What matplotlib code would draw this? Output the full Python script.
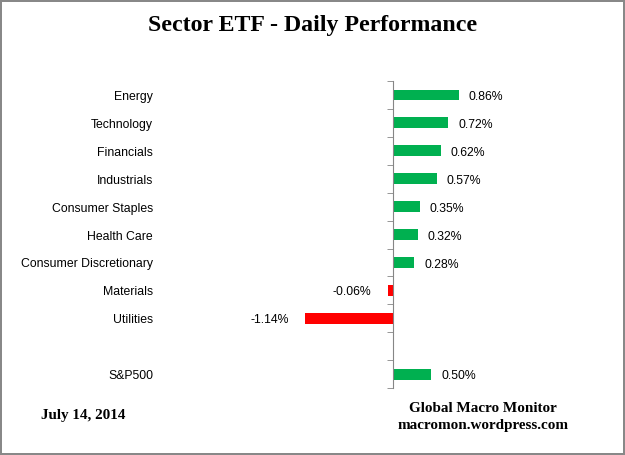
import matplotlib
matplotlib.use("Agg")
import matplotlib.pyplot as plt
import matplotlib.transforms as mtransforms
import numpy as np

# data, top to bottom (blank slot between Utilities and S&P500)
sectors = ["Energy", "Technology", "Financials", "Industrials", "Consumer Staples",
           "Health Care", "Consumer Discretionary", "Materials", "Utilities", "", "S&P500"]
returns = [0.86, 0.72, 0.62, 0.57, 0.35, 0.32, 0.28, -0.06, -1.14, np.nan, 0.50]

GREEN = "#00B050"
RED = "#FF0000"
SANS = "Liberation Sans"
SERIF = "Liberation Serif"

fig = plt.figure(figsize=(6.25, 4.55), dpi=100)
fig.patch.set_edgecolor("#888888")
fig.patch.set_linewidth(1.5)

ax = fig.add_axes([0.260, 0.147, 0.6146, 0.675])

pos = np.arange(len(sectors))
vals = np.array(returns, dtype=float)
colors = [GREEN if v >= 0 else RED for v in np.nan_to_num(vals)]
ax.barh(pos, np.nan_to_num(vals), height=0.39, color=colors, zorder=2)

ax.set_xlim(-3, 2)
ax.set_ylim(len(sectors) - 0.5, -0.5)

for s in ["top", "right", "bottom"]:
    ax.spines[s].set_visible(False)
ax.spines["left"].set_position(("data", 0))
ax.spines["left"].set_color("#868686")
ax.set_xticks([])
ax.set_yticks([])
ax.set_yticks(np.arange(len(sectors) + 1) - 0.5, minor=True)
ax.tick_params(axis="y", which="minor", length=4, color="#868686", labelleft=False)

# category labels on the left of the plot area
trans = mtransforms.blended_transform_factory(fig.transFigure, ax.transData)
for y, name in zip(pos, sectors):
    if name:
        ax.text(153 / 625, y + 0.07, name, transform=trans, ha="right", va="center",
                fontsize=8.8, family=SANS, color="#000000")

# value labels
for y, v in zip(pos, vals):
    if np.isnan(v):
        continue
    if v >= 0:
        ax.annotate(f"{v:.2f}%", (v, y), xytext=(7, -1.5), textcoords="offset points",
                    ha="left", va="center", fontsize=8.8, family=SANS)
    else:
        ax.annotate(f"{v:.2f}%", (v, y), xytext=(-12, -1.5), textcoords="offset points",
                    ha="right", va="center", fontsize=8.8, family=SANS)

fig.text(0.5, 1 - 25 / 455, "Sector ETF - Daily Performance", ha="center", va="center",
         fontsize=17.2, fontweight="bold", family=SERIF)
fig.text(41 / 625, 1 - 415 / 455, "July 14, 2014", ha="left", va="center",
         fontsize=10.9, fontweight="bold", family=SERIF)
fig.text(483 / 625, 1 - 409 / 455, "Global Macro Monitor", ha="center", va="center",
         fontsize=10.9, fontweight="bold", family=SERIF)
fig.text(483 / 625, 1 - 426 / 455, "macromon.wordpress.com", ha="center", va="center",
         fontsize=10.9, fontweight="bold", family=SERIF)

fig.savefig("out.png", dpi=100, edgecolor=fig.get_edgecolor())
